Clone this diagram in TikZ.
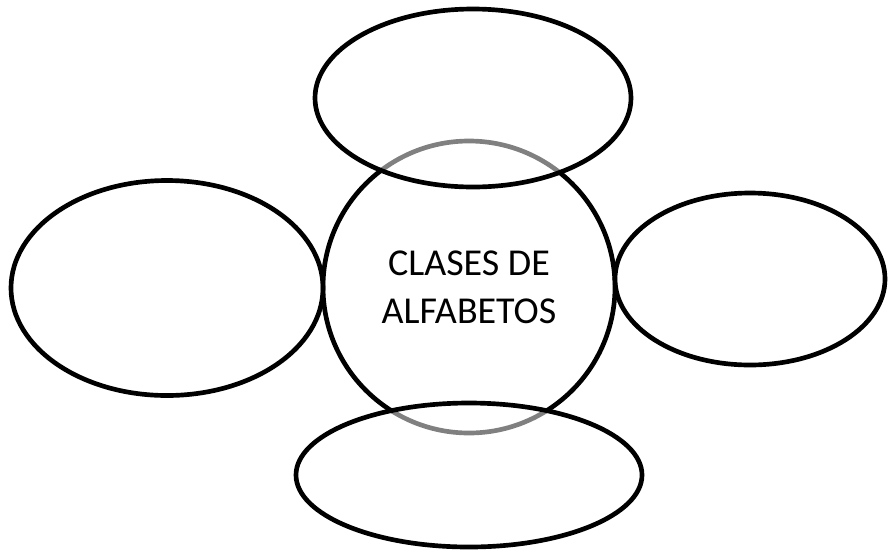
\documentclass[tikz,border=0pt]{standalone}
\usepackage{fontspec}
\setmainfont{Carlito}
\usetikzlibrary{shapes.geometric}
\begin{document}
\begin{tikzpicture}[x=0.75pt,y=-0.75pt,
  outline/.style={draw=black,line width=3.5pt,inner sep=0pt,outer sep=0pt},
  bubble/.style={outline,ellipse,fill=white,fill opacity=0.5,text opacity=1},
  hub/.style={outline,circle,align=center,font=\fontsize{28.5}{36}\selectfont}]
\useasboundingbox (0,0) rectangle (889,551);
\node[hub,minimum size=219pt] (hubnode) at (469,287) {CLASES DE\\ALFABETOS};
\node[bubble,minimum width=237pt,minimum height=133.5pt] (topE) at (473,98) {};
\node[bubble,minimum width=234pt,minimum height=161.25pt] (leftE) at (167,288) {};
\node[bubble,minimum width=202.5pt,minimum height=129pt] (rightE) at (750,279) {};
\node[bubble,minimum width=259.5pt,minimum height=108pt] (bottomE) at (469,475) {};
\end{tikzpicture}
\end{document}
